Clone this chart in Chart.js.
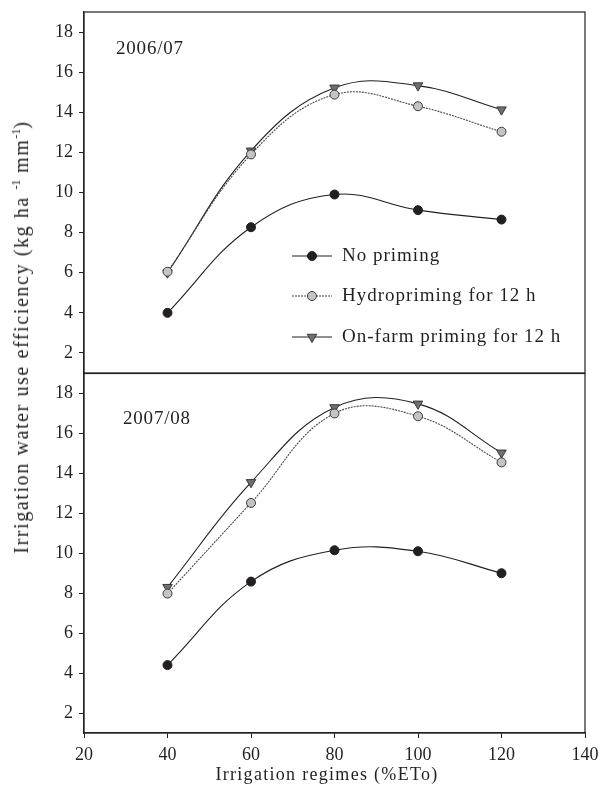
<!DOCTYPE html>
<html>
<head>
<meta charset="utf-8">
<script src="https://cdn.jsdelivr.net/npm/chart.js@4/dist/chart.umd.min.js"></script>
<style>
  body { margin: 0; background: #fff; }
  #wrap { position: relative; width: 601px; height: 794px; overflow: hidden; font-family: "Liberation Serif", serif; color: #231f20; }
  canvas { position: absolute; left: 0; }
  #c1 { top: 0; }
  #c2 { top: 367px; }
  #ytitle { position: absolute; left: 21px; top: 337px; white-space: nowrap; font-size: 20px; letter-spacing: 1.6px;
            transform: translate(-50%, -50%) rotate(-90deg); }
  #ytitle sup { font-size: 12px; vertical-align: 8px; letter-spacing: 0; }
  #xtitle { position: absolute; left: 327px; top: 774px; white-space: nowrap; font-size: 18px; letter-spacing: 1.3px;
            transform: translate(-50%, -50%); }
</style>
</head>
<body>
<div id="wrap">
  <canvas id="c1" width="601" height="380"></canvas>
  <canvas id="c2" width="601" height="427"></canvas>
  <div id="ytitle">Irrigation water use efficiency (kg ha <sup>-1</sup> mm<sup>-1</sup>)</div>
  <div id="xtitle">Irrigation regimes (%ETo)</div>
</div>
<script>
// irrigation regimes (%ETo)
const regimes = [40, 60, 80, 100, 120];
const seriesNames = ['No priming', 'Hydropriming for 12 h', 'On-farm priming for 12 h'];

// 2006/07
const noPriming0607 = [4.0, 8.27, 9.9, 9.12, 8.65];
const hydro0607 = [6.05, 11.9, 14.88, 14.3, 13.03];
const onFarm0607 = [6.0, 12.08, 15.22, 15.33, 14.13];

// 2007/08
const noPriming0708 = [4.4, 8.58, 10.15, 10.1, 9.0];
const hydro0708 = [7.98, 12.52, 17.0, 16.86, 14.55];
const onFarm0708 = [8.3, 13.55, 17.3, 17.48, 15.03];

const yTicks = [2, 4, 6, 8, 10, 12, 14, 16, 18];
const xTicks = [20, 40, 60, 80, 100, 120, 140];

const ink = '#231f20';
const font = { family: '"Liberation Serif", serif', size: 18 };

const styles = [
  { borderColor: ink, borderDash: [], pointStyle: 'circle', pointBackgroundColor: ink, pointBorderColor: ink, pointRadius: 4.5, pointRotation: 0 },
  { borderColor: '#4a4a4a', borderDash: [2, 1], pointStyle: 'circle', pointBackgroundColor: '#c4c4c4', pointBorderColor: '#3a3a3a', pointRadius: 4.5, pointRotation: 0 },
  { borderColor: ink, borderDash: [], pointStyle: 'triangle', pointBackgroundColor: '#6f6f6f', pointBorderColor: '#3a3a3a', pointRadius: 5.5, pointRotation: 180 }
];

function makeDatasets(arrs) {
  return arrs.map((vals, i) => Object.assign({
    label: seriesNames[i],
    data: regimes.map((x, j) => ({ x: x, y: vals[j] })),
    borderWidth: 1.1,
    pointBorderWidth: 1,
    tension: 0.4,
    fill: false
  }, styles[i]));
}

// frame around each panel plus the year label
function framePlugin(label, lx, ly) {
  return {
    id: 'frame',
    afterDraw(chart) {
      const a = chart.chartArea;
      const ctx = chart.ctx;
      ctx.save();
      ctx.strokeStyle = ink;
      ctx.lineWidth = 1.2;
      ctx.strokeRect(a.left, a.top, a.right - a.left, a.bottom - a.top);
      ctx.fillStyle = ink;
      ctx.font = '19px "Liberation Serif", serif';
      ctx.letterSpacing = '0.8px';
      ctx.textBaseline = 'middle';
      ctx.textAlign = 'left';
      ctx.fillText(label, lx, a.top + ly);
      ctx.restore();
    }
  };
}

// legend inside the top panel
const legendPlugin = {
  id: 'innerLegend',
  afterDraw(chart) {
    const ctx = chart.ctx;
    const rows = [256, 296, 337];
    ctx.save();
    chart.data.datasets.forEach((ds, i) => {
      const y = rows[i];
      ctx.strokeStyle = ds.borderColor;
      ctx.lineWidth = 1.1;
      ctx.setLineDash(ds.borderDash);
      ctx.beginPath();
      ctx.moveTo(292, y);
      ctx.lineTo(332, y);
      ctx.stroke();
      ctx.setLineDash([]);
      ctx.fillStyle = ds.pointBackgroundColor;
      ctx.strokeStyle = ds.pointBorderColor;
      ctx.lineWidth = 1;
      Chart.helpers.drawPoint(ctx, { pointStyle: ds.pointStyle, radius: ds.pointRadius, rotation: ds.pointRotation, borderWidth: 1 }, 312, y);
      ctx.fillStyle = ink;
      ctx.font = '19px "Liberation Serif", serif';
      ctx.letterSpacing = '1px';
      ctx.textBaseline = 'middle';
      ctx.textAlign = 'left';
      ctx.fillText(ds.label, 342, y);
      ctx.letterSpacing = '0px';
    });
    ctx.restore();
  }
};

function yScale() {
  return {
    min: 1, max: 19,
    afterBuildTicks(s) { s.ticks = yTicks.map(v => ({ value: v })); },
    afterFit(s) { s.width = 84; s.paddingTop = 0; s.paddingBottom = 0; },
    ticks: { font: font, color: ink, padding: 6 },
    grid: { display: true, drawOnChartArea: false, tickLength: 5, color: ink },
    border: { display: true, color: ink, width: 1.2 }
  };
}

new Chart(document.getElementById('c1'), {
  type: 'line',
  data: { datasets: makeDatasets([noPriming0607, hydro0607, onFarm0607]) },
  options: {
    responsive: false,
    animation: false,
    layout: { padding: { top: 12, right: 16, bottom: 7, left: 0 } },
    plugins: { legend: { display: false }, tooltip: { enabled: false } },
    scales: {
      x: { type: 'linear', min: 20, max: 140, display: false },
      y: yScale()
    }
  },
  plugins: [framePlugin('2006/07', 116, 37), legendPlugin]
});

const x2 = {
  type: 'linear', min: 20, max: 140,
  afterBuildTicks(s) { s.ticks = xTicks.map(v => ({ value: v })); },
  afterFit(s) { s.height = 61; s.paddingLeft = 0; s.paddingRight = 0; },
  ticks: { font: font, color: ink, padding: 6, maxRotation: 0 },
  grid: { display: true, drawOnChartArea: false, tickLength: 5, color: ink },
  border: { display: true, color: ink, width: 1.2 }
};

new Chart(document.getElementById('c2'), {
  type: 'line',
  data: { datasets: makeDatasets([noPriming0708, hydro0708, onFarm0708]) },
  options: {
    responsive: false,
    animation: false,
    layout: { padding: { top: 0, right: 16, bottom: 0, left: 0 } },
    plugins: { legend: { display: false }, tooltip: { enabled: false } },
    scales: { x: x2, y: yScale() }
  },
  plugins: [framePlugin('2007/08', 123, 46)]
});
</script>
</body>
</html>
